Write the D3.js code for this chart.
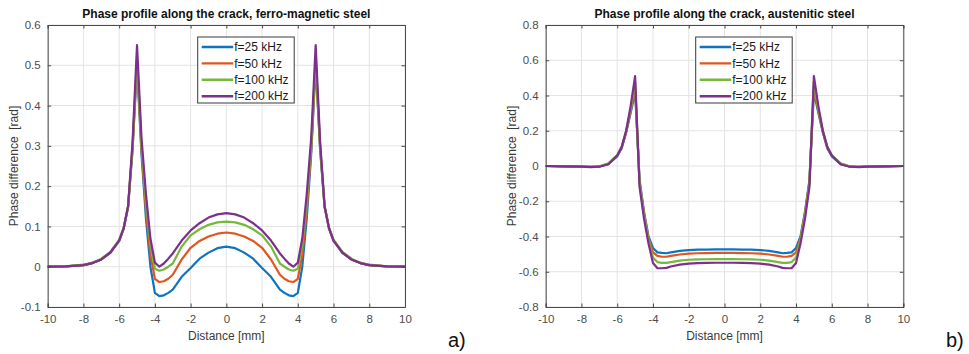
<!DOCTYPE html>
<html>
<head>
<meta charset="utf-8">
<script src="https://cdn.jsdelivr.net/npm/d3@7"></script>
<style>
  html, body { margin: 0; padding: 0; background: #fff; }
  svg { display: block; font-family: "Liberation Sans", Arial, sans-serif; }
</style>
</head>
<body>
<svg id="chart" width="969" height="354"></svg>
<script>
// ---------- data ----------
const distance = [-10,-9,-8,-7.5,-7,-6.5,-6,-5.75,-5.5,-5.25,-5,-4.75,-4.5,-4.25,-4,-3.75,-3.5,-3.25,-3,-2.5,-2,-1.5,-1,-0.5,0,
                  0.5,1,1.5,2,2.5,3,3.25,3.5,3.75,4,4.25,4.5,4.75,5,5.25,5.5,5.75,6,6.5,7,7.5,8,9,10];

const seriesNames = ["f=25 kHz", "f=50 kHz", "f=100 kHz", "f=200 kHz"];

// Panel a) ferro-magnetic steel
const ferro25 = [0,0.001,0.004,0.009,0.018,0.034,0.064,0.094,0.148,0.29,0.5,0.28,0.12,0.0,-0.065,-0.073,-0.071,-0.065,-0.057,-0.025,-0.003,0.02,0.035,0.046,0.05,
                 0.046,0.035,0.02,-0.003,-0.025,-0.057,-0.065,-0.071,-0.073,-0.065,0.0,0.12,0.28,0.5,0.29,0.148,0.094,0.064,0.034,0.018,0.009,0.004,0.001,0];
const ferro50 = [0,0.001,0.004,0.009,0.018,0.035,0.065,0.095,0.149,0.295,0.51,0.29,0.14,0.03,-0.03,-0.038,-0.036,-0.03,-0.02,0.018,0.047,0.064,0.075,0.082,0.085,
                 0.082,0.075,0.064,0.047,0.018,-0.02,-0.03,-0.036,-0.038,-0.03,0.03,0.14,0.29,0.51,0.295,0.149,0.095,0.065,0.035,0.018,0.009,0.004,0.001,0];
const ferro100 = [0,0.001,0.005,0.01,0.02,0.037,0.067,0.097,0.15,0.3,0.52,0.3,0.16,0.055,-0.005,-0.01,-0.007,0.0,0.008,0.05,0.078,0.093,0.104,0.11,0.112,
                  0.11,0.104,0.093,0.078,0.05,0.008,0.0,-0.007,-0.01,-0.005,0.055,0.16,0.3,0.52,0.3,0.15,0.097,0.067,0.037,0.02,0.01,0.005,0.001,0];
const ferro200 = [0,0.001,0.004,0.009,0.018,0.035,0.065,0.095,0.15,0.31,0.55,0.32,0.18,0.07,0.01,0.0,0.008,0.02,0.033,0.065,0.09,0.108,0.122,0.13,0.133,
                  0.13,0.122,0.108,0.09,0.065,0.033,0.02,0.008,0.0,0.01,0.07,0.18,0.32,0.55,0.31,0.15,0.095,0.065,0.035,0.018,0.009,0.004,0.001,0];

// Panel b) austenitic steel
const aust25 = [0,-0.002,-0.004,-0.005,-0.003,0.01,0.055,0.1,0.19,0.3,0.42,-0.08,-0.26,-0.4,-0.465,-0.49,-0.493,-0.495,-0.49,-0.482,-0.477,-0.475,-0.474,-0.473,-0.473,
                -0.473,-0.474,-0.475,-0.477,-0.482,-0.49,-0.495,-0.493,-0.49,-0.465,-0.4,-0.26,-0.08,0.42,0.3,0.19,0.1,0.055,0.01,-0.003,-0.005,-0.004,-0.002,0];
const aust50 = [0,-0.002,-0.004,-0.005,-0.003,0.012,0.058,0.105,0.195,0.31,0.445,-0.09,-0.27,-0.41,-0.49,-0.51,-0.515,-0.515,-0.51,-0.502,-0.497,-0.495,-0.494,-0.493,-0.493,
                -0.493,-0.494,-0.495,-0.497,-0.502,-0.51,-0.515,-0.515,-0.51,-0.49,-0.41,-0.27,-0.09,0.445,0.31,0.195,0.105,0.058,0.012,-0.003,-0.005,-0.004,-0.002,0];
const aust100 = [0,-0.002,-0.004,-0.005,-0.002,0.015,0.062,0.11,0.2,0.32,0.48,-0.1,-0.28,-0.42,-0.52,-0.545,-0.55,-0.55,-0.545,-0.537,-0.532,-0.53,-0.529,-0.528,-0.528,
                 -0.528,-0.529,-0.53,-0.532,-0.537,-0.545,-0.55,-0.55,-0.545,-0.52,-0.42,-0.28,-0.1,0.48,0.32,0.2,0.11,0.062,0.015,-0.002,-0.005,-0.004,-0.002,0];
const aust200 = [0,-0.002,-0.004,-0.006,-0.004,0.01,0.06,0.108,0.2,0.34,0.51,-0.12,-0.3,-0.44,-0.55,-0.58,-0.58,-0.578,-0.57,-0.56,-0.554,-0.551,-0.55,-0.549,-0.549,
                 -0.549,-0.55,-0.551,-0.554,-0.56,-0.57,-0.578,-0.58,-0.58,-0.55,-0.44,-0.3,-0.12,0.51,0.34,0.2,0.108,0.06,0.01,-0.004,-0.006,-0.004,-0.002,0];

const xTicks = [-10,-8,-6,-4,-2,0,2,4,6,8,10];
const ferroYTicks = [-0.1,0,0.1,0.2,0.3,0.4,0.5,0.6];
const austYTicks = [-0.8,-0.6,-0.4,-0.2,0,0.2,0.4,0.6,0.8];

const titleA = "Phase profile along the crack, ferro-magnetic steel";
const titleB = "Phase profile along the crack, austenitic steel";
const xLabel = "Distance [mm]";
const yLabel = "Phase difference  [rad]";

// ---------- styles ----------
const colors = ["#0f74c0", "#e0561e", "#76b83a", "#7e2f8e"];
const svg = d3.select("#chart");

function drawPanel(cfg) {
  const g = svg.append("g").attr("id", cfg.id);
  const x = d3.scaleLinear().domain([-10, 10]).range([cfg.x0, cfg.x1]);
  const y = d3.scaleLinear().domain(cfg.yDomain).range([cfg.y1, cfg.y0]);

  // grid
  const grid = g.append("g").attr("class", "grid");
  grid.selectAll("line.gx").data(xTicks).join("line").attr("class","gx")
    .attr("x1", d => x(d)).attr("x2", d => x(d)).attr("y1", cfg.y0).attr("y2", cfg.y1)
    .attr("stroke", "#e3e3e3").attr("stroke-width", 1);
  grid.selectAll("line.gy").data(cfg.yTicks).join("line").attr("class","gy")
    .attr("x1", cfg.x0).attr("x2", cfg.x1).attr("y1", d => y(d)).attr("y2", d => y(d))
    .attr("stroke", "#e3e3e3").attr("stroke-width", 1);

  // lines
  const line = d3.line().x((d, i) => x(distance[i])).y(d => y(d));
  g.append("g").attr("class", "series").selectAll("path").data(cfg.series).join("path")
    .attr("d", d => line(d)).attr("fill", "none")
    .attr("stroke", (d, i) => colors[i]).attr("stroke-width", 2.2)
    .attr("stroke-linejoin", "round");

  // axes (inward ticks, MATLAB-style box); hyphen-minus labels
  const xFmt = d => String(d);
  const yFmt = d => String(+(+d).toFixed(1));
  const axB = g.append("g").attr("transform", `translate(0,${cfg.y1})`)
    .call(d3.axisBottom(x).tickValues(xTicks).tickSize(-3.5).tickPadding(8).tickFormat(xFmt));
  const axT = g.append("g").attr("transform", `translate(0,${cfg.y0})`)
    .call(d3.axisTop(x).tickValues(xTicks).tickSize(-3.5).tickFormat(""));
  const axL = g.append("g").attr("transform", `translate(${cfg.x0},0)`)
    .call(d3.axisLeft(y).tickValues(cfg.yTicks).tickSize(-3.5).tickPadding(7).tickFormat(yFmt));
  const axR = g.append("g").attr("transform", `translate(${cfg.x1},0)`)
    .call(d3.axisRight(y).tickValues(cfg.yTicks).tickSize(-3.5).tickFormat(""));
  [axB, axT, axL, axR].forEach(a => {
    a.select(".domain").attr("stroke", "#4a4a4a").attr("stroke-width", 1);
    a.selectAll(".tick line").attr("stroke", "#4a4a4a");
    a.selectAll(".tick text").attr("fill", "#4d4d4d").style("font-size", "11.5px")
      .style("font-family", '"Liberation Sans", Arial, sans-serif');
  });

  // title
  g.append("text").attr("x", (cfg.x0 + cfg.x1) / 2).attr("y", 18)
    .attr("text-anchor", "middle").style("font-size", "12px").style("font-weight", "bold")
    .attr("fill", "#111").text(cfg.title);
  // x label
  g.append("text").attr("x", (cfg.x0 + cfg.x1) / 2).attr("y", 340)
    .attr("text-anchor", "middle").style("font-size", "12px").attr("fill", "#3a3a3a").text(xLabel);
  // y label
  g.append("text").attr("transform", `translate(${cfg.x0 - 30},${(cfg.y0 + cfg.y1) / 2}) rotate(-90)`)
    .attr("text-anchor", "middle").style("font-size", "12px").attr("fill", "#3a3a3a")
    .style("white-space", "pre").attr("xml:space", "preserve").text(yLabel);

  // legend
  const lx = cfg.x0 + 150, ly = cfg.y0 + 12, lw = 96.5, lh = 66;
  const leg = g.append("g").attr("class", "legend");
  leg.append("rect").attr("x", lx).attr("y", ly).attr("width", lw).attr("height", lh)
    .attr("fill", "#fff").attr("stroke", "#3a3a3a").attr("stroke-width", 1);
  seriesNames.forEach((name, i) => {
    const yy = ly + 10 + i * 16.4;
    leg.append("line").attr("x1", lx + 4).attr("x2", lx + 35.5).attr("y1", yy).attr("y2", yy)
      .attr("stroke", colors[i]).attr("stroke-width", 2.4);
    leg.append("text").attr("x", lx + 36.5).attr("y", yy + 4.2)
      .style("font-size", "12px").attr("fill", "#1a1a1a").text(name);
  });

  // panel label
  g.append("text").attr("x", cfg.labelX).attr("y", 347).style("font-size", "20px")
    .attr("fill", "#111").text(cfg.label);
}

drawPanel({
  id: "panelA", x0: 47.7, x1: 405, y0: 25, y1: 307,
  yDomain: [-0.1, 0.6], yTicks: ferroYTicks,
  series: [ferro25, ferro50, ferro100, ferro200],
  title: titleA, label: "a)", labelX: 448
});
drawPanel({
  id: "panelB", x0: 545.7, x1: 903.3, y0: 25, y1: 307,
  yDomain: [-0.8, 0.8], yTicks: austYTicks,
  series: [aust25, aust50, aust100, aust200],
  title: titleB, label: "b)", labelX: 946
});
</script>
</body>
</html>
